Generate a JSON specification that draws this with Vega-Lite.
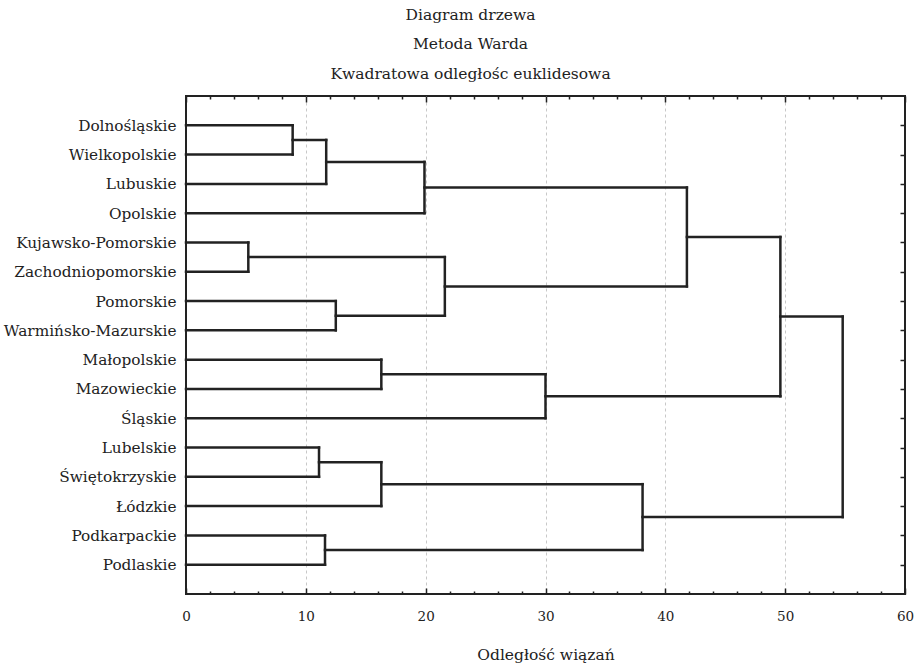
{
  "$schema": "https://vega.github.io/schema/vega-lite/v6.json",
  "width": 719,
  "height": 498,
  "autosize": {"type": "none"},
  "padding": {"left": 186, "top": 96, "right": 10, "bottom": 70},
  "background": "white",
  "config": {"view": {"stroke": "#222222", "strokeWidth": 2}, "font": "DejaVu Serif"},
  "title": {
    "text": ["Diagram drzewa", "Metoda Warda", "Kwadratowa odległośc euklidesowa"],
    "font": "DejaVu Serif",
    "fontSize": 15.5,
    "fontWeight": "normal",
    "color": "#222222",
    "lineHeight": 29.5,
    "anchor": "middle",
    "frame": "group",
    "dx": -75,
    "offset": 13
  },
  "data": {
    "values": [
      {"x": 0, "x2": 8.9, "y": 1, "y2": 1},
      {"x": 0, "x2": 8.9, "y": 2, "y2": 2},
      {"x": 8.9, "x2": 8.9, "y": 1, "y2": 2},
      {"x": 8.9, "x2": 11.7, "y": 1.5, "y2": 1.5},
      {"x": 0, "x2": 11.7, "y": 3, "y2": 3},
      {"x": 11.7, "x2": 11.7, "y": 1.5, "y2": 3},
      {"x": 11.7, "x2": 19.9, "y": 2.25, "y2": 2.25},
      {"x": 0, "x2": 19.9, "y": 4, "y2": 4},
      {"x": 19.9, "x2": 19.9, "y": 2.25, "y2": 4},
      {"x": 19.9, "x2": 41.8, "y": 3.125, "y2": 3.125},
      {"x": 0, "x2": 5.2, "y": 5, "y2": 5},
      {"x": 0, "x2": 5.2, "y": 6, "y2": 6},
      {"x": 5.2, "x2": 5.2, "y": 5, "y2": 6},
      {"x": 5.2, "x2": 21.6, "y": 5.5, "y2": 5.5},
      {"x": 0, "x2": 12.5, "y": 7, "y2": 7},
      {"x": 0, "x2": 12.5, "y": 8, "y2": 8},
      {"x": 12.5, "x2": 12.5, "y": 7, "y2": 8},
      {"x": 12.5, "x2": 21.6, "y": 7.5, "y2": 7.5},
      {"x": 21.6, "x2": 21.6, "y": 5.5, "y2": 7.5},
      {"x": 21.6, "x2": 41.8, "y": 6.5, "y2": 6.5},
      {"x": 41.8, "x2": 41.8, "y": 3.125, "y2": 6.5},
      {"x": 41.8, "x2": 49.6, "y": 4.8125, "y2": 4.8125},
      {"x": 0, "x2": 16.3, "y": 9, "y2": 9},
      {"x": 0, "x2": 16.3, "y": 10, "y2": 10},
      {"x": 16.3, "x2": 16.3, "y": 9, "y2": 10},
      {"x": 16.3, "x2": 30.0, "y": 9.5, "y2": 9.5},
      {"x": 0, "x2": 30.0, "y": 11, "y2": 11},
      {"x": 30.0, "x2": 30.0, "y": 9.5, "y2": 11},
      {"x": 30.0, "x2": 49.6, "y": 10.25, "y2": 10.25},
      {"x": 49.6, "x2": 49.6, "y": 4.8125, "y2": 10.25},
      {"x": 49.6, "x2": 54.8, "y": 7.53125, "y2": 7.53125},
      {"x": 0, "x2": 11.1, "y": 12, "y2": 12},
      {"x": 0, "x2": 11.1, "y": 13, "y2": 13},
      {"x": 11.1, "x2": 11.1, "y": 12, "y2": 13},
      {"x": 11.1, "x2": 16.3, "y": 12.5, "y2": 12.5},
      {"x": 0, "x2": 16.3, "y": 14, "y2": 14},
      {"x": 16.3, "x2": 16.3, "y": 12.5, "y2": 14},
      {"x": 16.3, "x2": 38.1, "y": 13.25, "y2": 13.25},
      {"x": 0, "x2": 11.6, "y": 15, "y2": 15},
      {"x": 0, "x2": 11.6, "y": 16, "y2": 16},
      {"x": 11.6, "x2": 11.6, "y": 15, "y2": 16},
      {"x": 11.6, "x2": 38.1, "y": 15.5, "y2": 15.5},
      {"x": 38.1, "x2": 38.1, "y": 13.25, "y2": 15.5},
      {"x": 38.1, "x2": 54.8, "y": 14.375, "y2": 14.375},
      {"x": 54.8, "x2": 54.8, "y": 7.53125, "y2": 14.375}
    ]
  },
  "layer": [
    {
      "mark": {"type": "rule", "stroke": "#222222", "strokeWidth": 2.5, "strokeCap": "square"},
      "encoding": {
        "x": {
          "field": "x",
          "type": "quantitative",
          "scale": {"domain": [0, 60], "nice": false, "zero": false},
          "axis": {
            "orient": "bottom",
            "values": [0,2,4,6,8,10,12,14,16,18,20,22,24,26,28,30,32,34,36,38,40,42,44,46,48,50,52,54,56,58,60],
            "domain": false,
            "grid": false,
            "tickSize": {"condition": {"test": "datum.value % 10 === 0", "value": -6}, "value": -3},
            "tickColor": "#222222",
            "tickWidth": 1.5,
            "labelExpr": "datum.value % 10 === 0 ? datum.label : ''",
            "labelFont": "DejaVu Serif",
            "labelFontSize": 13.5,
            "labelColor": "#222222",
            "labelPadding": 21,
            "labelFlush": false,
            "labelOverlap": false,
            "title": "Odległość wiązań",
            "titleFont": "DejaVu Serif",
            "titleFontSize": 15.5,
            "titleFontWeight": "normal",
            "titleColor": "#222222",
            "titlePadding": 22
          }
        },
        "x2": {"field": "x2"},
        "y": {
          "field": "y",
          "type": "quantitative",
          "scale": {"domain": [0, 17], "reverse": true, "nice": false, "zero": false},
          "axis": {
            "orient": "left",
            "values": [1,2,3,4,5,6,7,8,9,10,11,12,13,14,15,16],
            "domain": false,
            "grid": false,
            "ticks": false,
            "labelExpr": "['', 'Dolnośląskie', 'Wielkopolskie', 'Lubuskie', 'Opolskie', 'Kujawsko-Pomorskie', 'Zachodniopomorskie', 'Pomorskie', 'Warmińsko-Mazurskie', 'Małopolskie', 'Mazowieckie', 'Śląskie', 'Lubelskie', 'Świętokrzyskie', 'Łódzkie', 'Podkarpackie', 'Podlaskie'][datum.value]",
            "labelFont": "DejaVu Serif",
            "labelFontSize": 15.3,
            "labelColor": "#222222",
            "labelPadding": 10,
            "labelLimit": 400,
            "labelOverlap": false,
            "labelFlush": false,
            "title": null
          }
        },
        "y2": {"field": "y2"}
      }
    },
    {
      "mark": {"type": "rule", "opacity": 0},
      "encoding": {
        "x": {
          "field": "x",
          "type": "quantitative",
          "axis": {
            "orient": "top",
            "values": [0,2,4,6,8,10,12,14,16,18,20,22,24,26,28,30,32,34,36,38,40,42,44,46,48,50,52,54,56,58,60],
            "domain": false,
            "grid": true,
            "gridColor": "#c8c8c8",
            "gridDash": [3, 3],
            "gridWidth": 1,
            "gridOpacity": {"condition": {"test": "datum.value % 10 === 0 && datum.value > 0 && datum.value < 60", "value": 1}, "value": 0},
            "tickSize": {"condition": {"test": "datum.value % 10 === 0", "value": -6}, "value": -3},
            "tickColor": "#222222",
            "tickWidth": 1.5,
            "labels": false,
            "title": null
          }
        },
        "x2": {"field": "x2"},
        "y": {
          "field": "y",
          "type": "quantitative",
          "axis": {
            "orient": "right",
            "values": [1,2,3,4,5,6,7,8,9,10,11,12,13,14,15,16],
            "domain": false,
            "grid": false,
            "tickSize": -5,
            "tickColor": "#222222",
            "tickWidth": 1.5,
            "labels": false,
            "title": null
          }
        },
        "y2": {"field": "y2"}
      }
    }
  ],
  "resolve": {"axis": {"x": "independent", "y": "independent"}}
}
